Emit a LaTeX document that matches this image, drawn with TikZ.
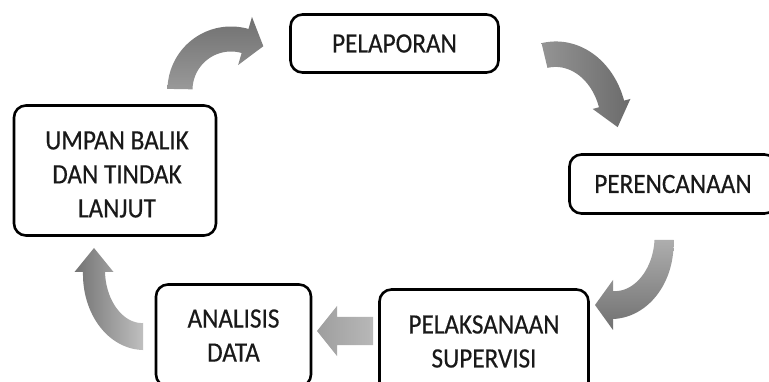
\documentclass[tikz,border=0pt]{standalone}
\usepackage{fontspec}
\setmainfont{Carlito}[FakeStretch=0.9, FakeBold=0.4]
% #1 cx, #2 cy, #3 rx, #4 ry, #5 start angle, #6 end angle, #7 half width at tail, #8 half width at head, #9 style
% head half width \headw, head length \headl
\newcommand\bentarrow[9]{%
  \pgfmathsetmacro\bn{sqrt((#4*cos(#6))^2+(#3*sin(#6))^2)}%
  \pgfmathsetmacro\bnx{#4*cos(#6)/\bn}%
  \pgfmathsetmacro\bny{#3*sin(#6)/\bn}%
  \pgfmathsetmacro\bpx{#1+#3*cos(#6)}%
  \pgfmathsetmacro\bpy{#2+#4*sin(#6)}%
  \path[#9]
    plot[domain=#5:#6, samples=50]
      ({#1+#3*cos(\x)+(#7+(#8-#7)*(\x-#5)/(#6-#5))*#4*cos(\x)/sqrt((#4*cos(\x))^2+(#3*sin(\x))^2)},
       {#2+#4*sin(\x)+(#7+(#8-#7)*(\x-#5)/(#6-#5))*#3*sin(\x)/sqrt((#4*cos(\x))^2+(#3*sin(\x))^2)})
    -- ({\bpx+\headw*\bnx},{\bpy+\headw*\bny})
    -- ({\bpx-\headl*\bny},{\bpy+\headl*\bnx})
    -- ({\bpx-\headw*\bnx},{\bpy-\headw*\bny})
    -- plot[domain=#6:#5, samples=50]
      ({#1+#3*cos(\x)-(#7+(#8-#7)*(\x-#5)/(#6-#5))*#4*cos(\x)/sqrt((#4*cos(\x))^2+(#3*sin(\x))^2)},
       {#2+#4*sin(\x)-(#7+(#8-#7)*(\x-#5)/(#6-#5))*#3*sin(\x)/sqrt((#4*cos(\x))^2+(#3*sin(\x))^2)})
    -- cycle;}
\tikzset{
  stagebox/.style={draw=black, line width=2.6pt, rounded corners=12pt, fill=white,
    align=center, inner sep=0pt, font=\fontsize{28}{34}\selectfont, text=black!90},
  stagetext/.style={align=center, inner sep=0pt, font=\fontsize{28}{34}\selectfont, text=black!90},
  flowarrow/.style={draw=none}
}
\begin{document}
\begin{tikzpicture}[x=1pt,y=-1pt]
\useasboundingbox (0,0) rectangle (769,382);
\clip (0,0) rectangle (769,382);
\fill[white] (0,0) rectangle (769,382);

% stages
\node[stagebox, minimum width=208, minimum height=58] (pel) at (394.5,43.5) {PELAPORAN};
\node[stagebox, minimum width=207, minimum height=59] (per) at (673,184) {PERENCANAAN};
\node[stagebox, minimum width=202, minimum height=130] (ump) at (115,170.5) {};
\node[stagetext] (umpt) at ([xshift=2pt,yshift=-4pt]ump.center) {UMPAN BALIK\\DAN TINDAK\\LANJUT};
\node[stagebox, minimum width=155, minimum height=102] (ana) at (233.5,335.5) {ANALISIS\\DATA};
\node[stagebox, minimum width=209, minimum height=104] (pls) at (484,341.5) {PELAKSANAAN\\SUPERVISI};

% arrows
\def\headw{25}\def\headl{19}
\bentarrow{231}{90}{51}{51}{181}{286}{12.5}{12.5}{flowarrow, bottom color=black!40, top color=black!56}
\def\headw{19.5}\def\headl{24}
\bentarrow{555.7}{126.2}{58.7}{72}{259}{342}{12.7}{13}{flowarrow, left color=black!42, right color=black!58}
\def\headw{25}\def\headl{18}
\bentarrow{613}{240}{51}{65}{0}{90}{9.5}{14}{flowarrow, top color=black!32, bottom color=black!56}
\def\headw{19.5}\def\headl{24}
\bentarrow{143}{272}{49}{64.5}{90}{180}{13.5}{11}{flowarrow, left color=black!55, right color=black!25}
\path[flowarrow, left color=black!38, middle color=black!68, right color=black!28]
  (373,317) -- (337,317) -- (337,306) -- (317,331) -- (337,356) -- (337,345) -- (373,345) -- cycle;
\end{tikzpicture}
\end{document}
